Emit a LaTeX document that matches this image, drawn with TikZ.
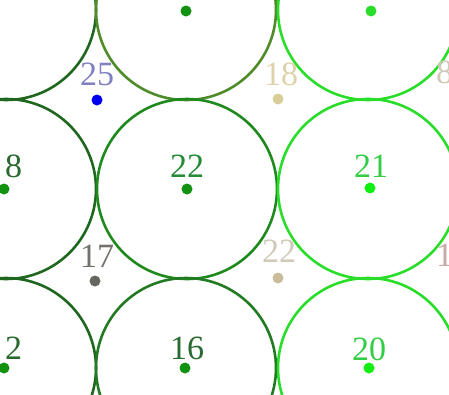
\documentclass[tikz,border=0pt]{standalone}
\usepackage{fontspec}
\setmainfont{Liberation Serif}
\definecolor{cDark}{HTML}{1F661F}
\definecolor{cOlive}{HTML}{4E8C2A}
\definecolor{cMid}{HTML}{1E8A1E}
\definecolor{cMidB}{HTML}{227A22}
\definecolor{cBright}{HTML}{2ADD2A}
\definecolor{dBlue}{HTML}{0000EE}
\definecolor{dWheat}{HTML}{D8CF98}
\definecolor{dGray}{HTML}{666660}
\definecolor{dBeige}{HTML}{CBBD9C}
\definecolor{dGreen}{HTML}{119211}
\definecolor{dBright}{HTML}{11EE11}
\definecolor{tBlue}{HTML}{8080C2}
\definecolor{tWheat}{HTML}{DDD2AA}
\definecolor{tGray}{HTML}{72726A}
\definecolor{tBeige}{HTML}{D0C8B8}
\definecolor{tGreen}{HTML}{238A35}
\definecolor{tBright}{HTML}{33CC44}
\definecolor{tDark}{HTML}{2A6A30}
\definecolor{tRose}{HTML}{C8A8A8}
\begin{document}
\begin{tikzpicture}[x=1pt,y=-1pt,
  ring/.style={line width=2.6pt},
  dot/.style={circle,inner sep=0pt,minimum size=11pt},
  lab/.style={font=\fontsize{34}{34}\selectfont,inner sep=0pt,anchor=base}]
\useasboundingbox (0,0) rectangle (449,394);
\clip (0,0) rectangle (449,394);
% centre points
\coordinate (L1) at (6,10);
\coordinate (L2) at (6,189);
\coordinate (L3) at (6,368);
\coordinate (M1) at (186,10);
\coordinate (M2) at (187,189);
\coordinate (M3) at (186,368);
\coordinate (R1) at (368,10);
\coordinate (R2) at (368,189);
\coordinate (R3) at (368,368);
% rings
\draw[ring,cDark] (L1) circle (90) (L2) circle (90) (L3) circle (90);
\draw[ring,cOlive] (M1) circle (90);
\draw[ring,cMid] (M2) circle (90);
\draw[ring,cMidB] (M3) circle (90);
\draw[ring,cBright] (R1) circle (90) (R2) circle (90) (R3) circle (90);
% dots
\node[dot,fill=dGreen] (d1) at (186,11) {};
\node[dot,fill=cBright] (d2) at (371,11) {};
\node[dot,fill=dGreen] (d3) at (4,189) {};
\node[dot,fill=dGreen] (d4) at (187,189) {};
\node[dot,fill=dBright] (d5) at (370,188) {};
\node[dot,fill=dGreen] (d6) at (4,368) {};
\node[dot,fill=dGreen] (d7) at (185,368) {};
\node[dot,fill=dBright] (d8) at (369,368) {};
\node[dot,fill=dBlue] (d9) at (97,100) {};
\node[dot,fill=dWheat] (d10) at (278,99) {};
\node[dot,fill=dGray] (d11) at (95,281) {};
\node[dot,fill=dBeige] (d12) at (278,278) {};
% labels
\node[lab,text=tBlue] (l9) at (97,85) {25};
\node[lab,text=tWheat] (l10) at (281,85) {18};
\node[lab,text=tGray] (l11) at (97,267) {17};
\node[lab,text=tBeige] (l12) at (279,262) {22};
\node[lab,text=tGreen] (l4) at (187,177) {22};
\node[lab,text=tBright] (l5) at (371,177) {21};
\node[lab,text=tDark] (l7) at (187,359) {16};
\node[lab,text=tBright] (l8) at (369,360) {20};
\node[lab,text=tDark,anchor=base west] (l3) at (5,177) {8};
\node[lab,text=tDark,anchor=base west] (l6) at (5,359) {2};
\node[lab,text=tBeige,anchor=base west] (lr1) at (436,83) {8};
\node[lab,text=tRose,anchor=base west] (lr2) at (436,266) {1};
\end{tikzpicture}
\end{document}
